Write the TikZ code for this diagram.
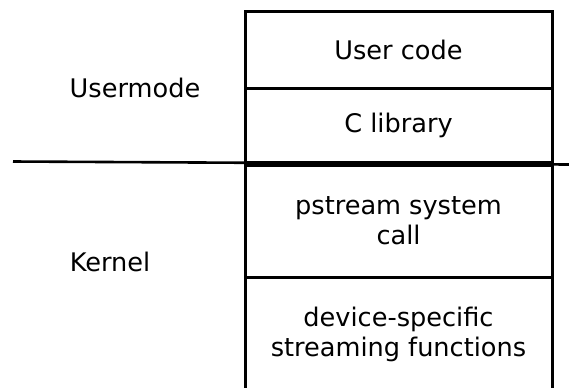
\documentclass[tikz,border=0pt]{standalone}
\usepackage{fontspec}
\setmainfont{DejaVu Sans}
\begin{document}
\begin{tikzpicture}[x=0.5pt,y=-0.5pt] % pixel-like units, y pointing down
		\newcommand{\boxWidth}{153.5pt}
		\newcommand{\colX}{398.5}
		\tikzset{layerBox/.style={draw, line width=1.5pt, minimum width=\boxWidth, inner sep=0pt, align=center, font=\fontsize{12.8}{15}\selectfont},
			modeLabel/.style={font=\fontsize{12.8}{15}\selectfont}}
		
		\useasboundingbox (0,0) rectangle (569,387);	% whole picture
		\clip (0,0) rectangle (569,387);				% bottom box runs off the page
		
		% usermode / kernel divider
		\coordinate (divLeft) at (13,161.5);
		\coordinate (divRight) at (569,164.5);
		\draw[line width=1.3pt] (divLeft) -- (divRight);
		
		% usermode layers
		\node[layerBox, minimum height=38.5pt] (userCode) at (\colX,49.5) {User code};
		\node[layerBox, minimum height=37pt] (cLibrary) at (\colX,125) {C library};
		
		% kernel layers
		\node[layerBox, minimum height=56pt] (pstreamCall) at (\colX,221) {pstream system\\call};
		\node[layerBox, minimum height=57pt] (deviceFuncs) at (\colX,334) {device-specific\\streaming functions};
		
		% side labels
		\node[modeLabel] (usermode) at (135,88) {Usermode};
		\node[modeLabel] (kernel) at (110,262) {Kernel};
		\end{tikzpicture}
\end{document}
